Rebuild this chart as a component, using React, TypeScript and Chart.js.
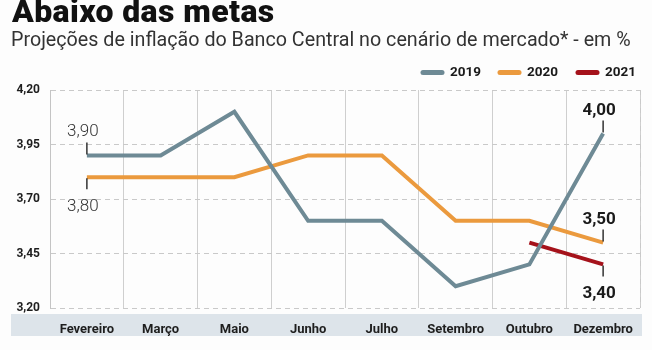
import React, { useEffect, useRef } from "react";
import { Chart, registerables } from "chart.js";

Chart.register(...registerables);

const categories = ["Fevereiro", "Março", "Maio", "Junho", "Julho", "Setembro", "Outubro", "Dezembro"];
const series2019 = [3.9, 3.9, 4.1, 3.6, 3.6, 3.3, 3.4, 4.0];
const series2020 = [3.8, 3.8, 3.8, 3.9, 3.9, 3.6, 3.6, 3.5];
const series2021 = [null, null, null, null, null, null, 3.5, 3.4];
const yTicks = [3.2, 3.45, 3.7, 3.95, 4.2];
const seriesNames = ["2019", "2020", "2021"];
const seriesColors = ["#6e8a95", "#eb9a3e", "#a5121b"];

// annotations: dataset index, category index, placement, bold
const annotations = [
  { ds: 0, idx: 0, place: "above", bold: false },
  { ds: 1, idx: 0, place: "below", bold: false },
  { ds: 0, idx: 7, place: "above", bold: true },
  { ds: 1, idx: 7, place: "above", bold: true },
  { ds: 2, idx: 7, place: "below", bold: true },
];

const fmt = (v: number) => v.toFixed(2).replace(".", ",");

const decorPlugin = {
  id: "decor",
  beforeDraw(chart: any) {
    const { ctx } = chart;
    ctx.save();
    ctx.fillStyle = "#dde4ea";
    ctx.fillRect(11, 314, 631, 22);
    ctx.restore();
  },
  afterDraw(chart: any) {
    const { ctx, chartArea } = chart;
    const xs = chart.scales.x;
    const ys = chart.scales.y;
    ctx.save();
    // right dashed border
    ctx.strokeStyle = "#c9c9c9";
    ctx.lineWidth = 1;
    ctx.setLineDash([5, 4]);
    ctx.beginPath();
    ctx.moveTo(chartArea.right + 0.5, chartArea.top);
    ctx.lineTo(chartArea.right + 0.5, chartArea.bottom);
    ctx.stroke();
    ctx.setLineDash([]);

    // legend
    const legendX = [421, 498, 576];
    const ly = 72.5;
    seriesNames.forEach((name, i) => {
      ctx.strokeStyle = seriesColors[i];
      ctx.lineWidth = 5;
      ctx.lineCap = "round";
      ctx.beginPath();
      ctx.moveTo(legendX[i] + 2, ly);
      ctx.lineTo(legendX[i] + 21, ly);
      ctx.stroke();
      ctx.fillStyle = "#1a1a1a";
      ctx.font = "bold 13.5px Roboto";
      ctx.textAlign = "left";
      ctx.textBaseline = "middle";
      ctx.fillText(name, legendX[i] + 29, ly + 0.5);
    });

    // annotations
    ctx.lineCap = "butt";
    annotations.forEach((a) => {
      const value = chart.data.datasets[a.ds].data[a.idx] as number;
      const x = xs.getPixelForValue(a.idx);
      const y = ys.getPixelForValue(value);
      ctx.strokeStyle = "#333";
      ctx.lineWidth = 1.5;
      ctx.beginPath();
      if (a.place === "above") {
        ctx.moveTo(x, y - 1);
        ctx.lineTo(x, y - 13);
      } else {
        ctx.moveTo(x, y + 1);
        ctx.lineTo(x, y + 12);
      }
      ctx.stroke();
      ctx.fillStyle = a.bold ? "#1a1a1a" : "#333";
      ctx.font = a.bold ? "bold 17px Roboto" : "300 17px Roboto";
      ctx.textAlign = "center";
      ctx.textBaseline = "alphabetic";
      const ty = a.place === "above" ? y - 19 : y + 34;
      ctx.fillText(fmt(value), x - 4, ty);
    });
    ctx.restore();
  },
};

export default function App() {
  const ref = useRef<HTMLCanvasElement>(null);
  useEffect(() => {
    const chart = new Chart(ref.current!, {
      type: "line",
      data: {
        labels: categories,
        datasets: [series2019, series2020, series2021].map((d, i) => ({
          label: seriesNames[i],
          data: d as any,
          borderColor: seriesColors[i],
          backgroundColor: seriesColors[i],
          borderWidth: 4,
          pointRadius: 0,
          pointHoverRadius: 0,
          tension: 0,
          borderJoinStyle: "miter" as const,
          spanGaps: false,
        })),
      },
      options: {
        responsive: false,
        animation: false,
        devicePixelRatio: 1,
        layout: { padding: { top: 90, right: 12, left: 0, bottom: 0 } },
        plugins: { legend: { display: false }, tooltip: { enabled: false } },
        scales: {
          x: {
            offset: true,
            grid: {
              offset: true,
              drawTicks: false,
              color: (c: any) => (c.index >= categories.length ? "transparent" : "#cfcfcf"),
              lineWidth: 1,
            },
            border: { display: false },
            ticks: {
              padding: 14,
              color: "#1e1e1e",
              font: { family: "Roboto", weight: "bold", size: 13 },
              maxRotation: 0,
            },
            afterFit: (s: any) => {
              s.height = 42;
            },
          },
          y: {
            min: 3.2,
            max: 4.2,
            grid: { drawTicks: false, color: "#c9c9c9", lineWidth: 1 },
            border: { display: true, color: "#c4c4c4", dash: [5, 4] },
            afterBuildTicks: (s: any) => {
              s.ticks = yTicks.map((v) => ({ value: v }));
            },
            ticks: {
              padding: 10,
              color: "#1e1e1e",
              font: { family: "Roboto", weight: "bold", size: 12 },
              callback: (v: any) => fmt(Number(v)),
            },
            afterFit: (s: any) => {
              s.width = 50;
            },
          },
        },
      },
      plugins: [decorPlugin],
    });
    return () => chart.destroy();
  }, []);
  return (
    <div
      style={{
        position: "fixed",
        left: 0,
        top: 0,
        width: 652,
        height: 350,
        background: "#fdfdfd",
        overflow: "hidden",
      }}
    >
      <canvas
        ref={ref}
        width={652}
        height={350}
        style={{ position: "absolute", left: 0, top: 0, width: 652, height: 350 }}
      />
      <div
        style={{
          position: "absolute",
          left: 12,
          top: -5,
          fontFamily: "Roboto",
          fontWeight: 900,
          fontSize: 32,
          letterSpacing: 0.4,
          lineHeight: "32px",
          color: "#111",
          whiteSpace: "nowrap",
        }}
      >
        Abaixo das metas
      </div>
      <div
        style={{
          position: "absolute",
          left: 11,
          top: 30,
          fontFamily: "Roboto",
          fontWeight: 400,
          fontSize: 19.7,
          lineHeight: "19px",
          color: "#333",
          whiteSpace: "nowrap",
        }}
      >
        Projeções de inflação do Banco Central no cenário de mercado* - em %
      </div>
    </div>
  );
}
